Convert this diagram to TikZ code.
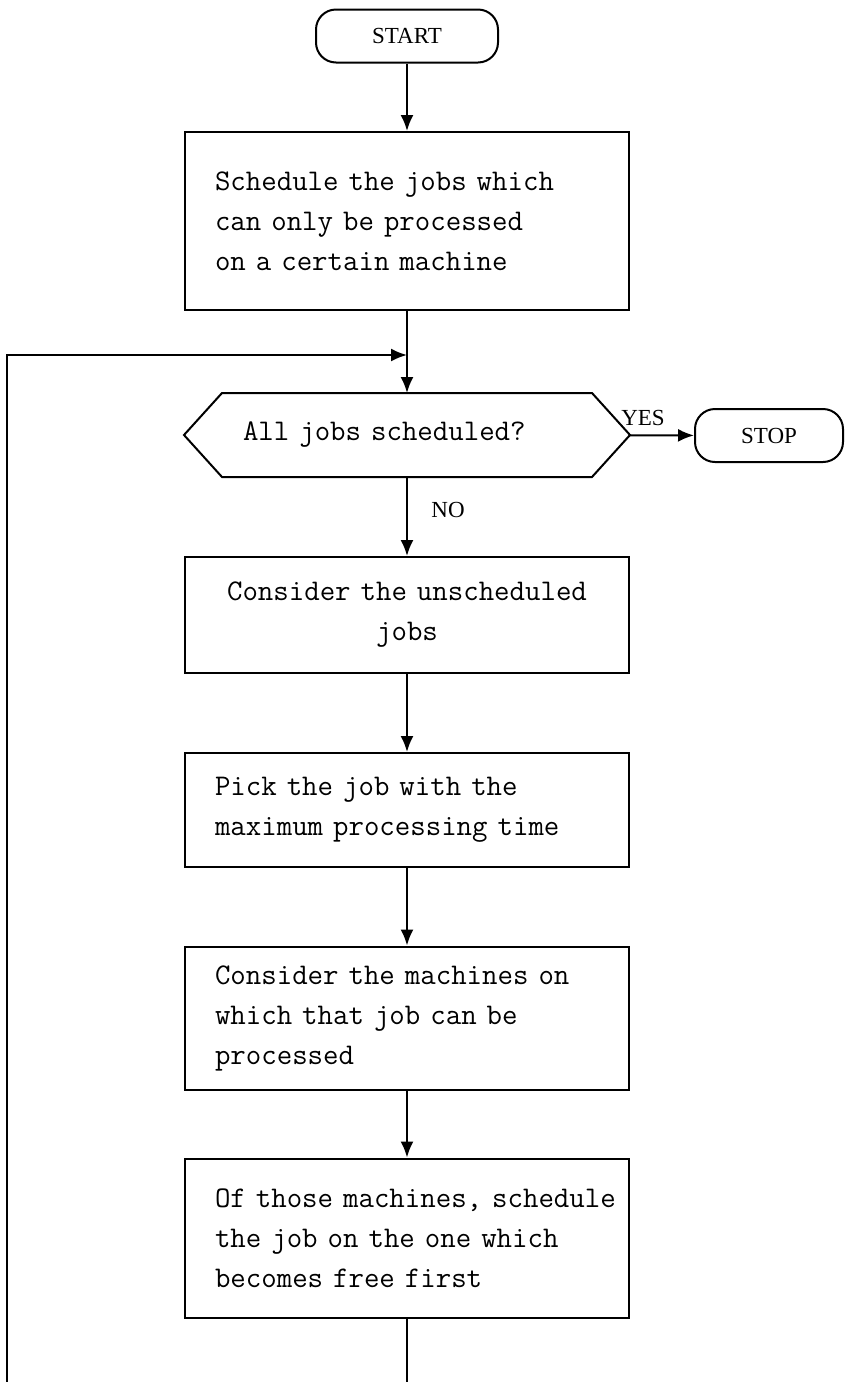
\documentclass[tikz,border=0pt]{standalone}
\usepackage{fontspec}
\setmainfont{Liberation Serif}
\usetikzlibrary{arrows.meta}
\begin{document}
\begin{tikzpicture}[x=0.5pt,y=-0.5pt,line width=1pt,>={Latex[length=8pt,width=6.5pt]}]
    \tikzstyle{every node}=[font=\fontsize{11.5}{13}\selectfont]
    \tikzstyle{procbox}=[draw,rectangle,minimum width=222pt,text width=192pt,inner xsep=15pt,align=left,font=\ttfamily\fontsize{15}{20}\selectfont]
    \tikzstyle{termbox}=[draw,rectangle,rounded corners=10pt,minimum height=26.5pt]
    \useasboundingbox (0,0) rectangle (845,1382);
    % boxes
    \node[termbox,minimum width=91pt] (start) at (407,36) {START};
    \node[procbox,minimum height=89pt] (sched) at (407,221) {Schedule the jobs which\\can only be processed\\on a certain machine};
    \node[minimum width=222pt,minimum height=41pt,text width=164pt,inner xsep=29pt,inner ysep=0pt,align=left,font=\ttfamily\fontsize{15}{20}\selectfont] (test) at (407,435) {All jobs scheduled?};
    \draw (test.west) -- ([xshift=19pt]test.north west) -- ([xshift=-19pt]test.north east)
      -- (test.east) -- ([xshift=-19pt]test.south east) -- ([xshift=19pt]test.south west) -- cycle;
    \node[termbox,minimum width=74pt] (stop) at (769,435.5) {STOP};
    \node[procbox,minimum height=58pt,align=center] (consider) at (407,615) {Consider the unscheduled\\jobs};
    \node[procbox,minimum height=57pt] (pick) at (407,810) {Pick the job with the\\maximum processing time};
    \node[procbox,minimum height=71.5pt] (machines) at (407,1018) {Consider the machines on\\which that job can be\\processed};
    \node[procbox,minimum height=79.5pt] (assign) at (407,1238) {\mbox{Of those machines, schedule}\\the job on the one which\\becomes free first};
    \node (yes) at (643,418) {YES};
    \node (no) at (448,510) {NO};
    % loop back
    \coordinate (join) at (407,355);
    \coordinate (loop-top) at (7,355);
    \coordinate (loop-bot) at (7,1382);
    \coordinate (out) at (407,1382);
    \draw[->] (start) to (sched);
    \draw[->] (sched) to (test);
    \draw[->] (test) to (stop);
    \draw[->] (test) to (consider);
    \draw[->] (consider) to (pick);
    \draw[->] (pick) to (machines);
    \draw[->] (machines) to (assign);
    \draw (assign) to (out);
    \draw[->] (loop-bot) -- (loop-top) -- (join);
\end{tikzpicture}
\end{document}
